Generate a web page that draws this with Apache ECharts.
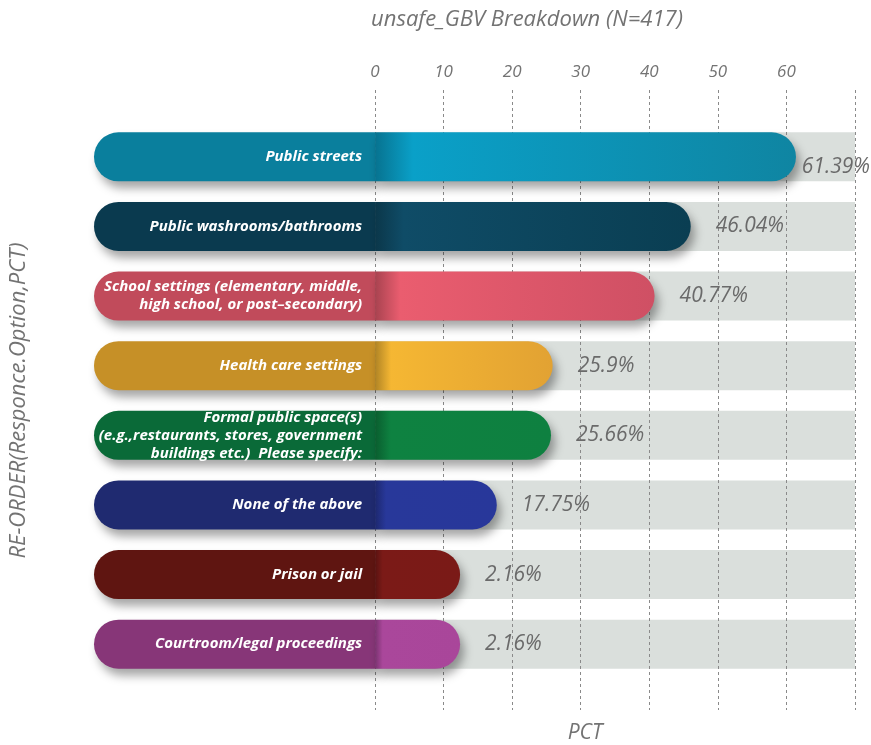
<!DOCTYPE html>
<html>
<head>
<meta charset="utf-8">
<script src="https://cdn.jsdelivr.net/npm/echarts@6/dist/echarts.min.js"></script>
<style>
  html, body { margin: 0; padding: 0; background: #fff; }
  #chart { width: 871px; height: 745px; }
</style>
</head>
<body>
<div id="chart"></div>
<script>
// Response options, top to bottom
const categories = [
  'Public streets',
  'Public washrooms/bathrooms',
  'School settings (elementary, middle,\nhigh school, or post\u2013secondary)',
  'Health care settings',
  'Formal public space(s)\n(e.g.,restaurants, stores, government\nbuildings etc.)  Please specify:',
  'None of the above',
  'Prison or jail',
  'Courtroom/legal proceedings'
];
// Share of respondents (%)
const pctValues = [61.39, 46.04, 40.77, 25.9, 25.66, 17.75, 2.16, 2.16];
// Top axis tick labels
const tickLabels = [0, 10, 20, 30, 40, 50, 60];

// Palette: [label part, bar start, bar end]
const palette = [
  ['#0a7f9d', '#0aa0c8', '#0f85a2'],
  ['#0a3a4f', '#0f4c67', '#0a3e52'],
  ['#c14b5b', '#ea5d6f', '#cf5064'],
  ['#c69027', '#f5b733', '#e2a233'],
  ['#0a6a38', '#0e8241', '#0e8040'],
  ['#1f2a70', '#28389a', '#28379a'],
  ['#5f1511', '#7b1a17', '#7a1a17'],
  ['#873678', '#aa479b', '#a9469a']
];

const AXIS_MIN = -41;   // room for the option names left of zero
const AXIS_MAX = 70;
const BAR_W = 49;
const grey = '#737373';

const shadow = {
  shadowColor: 'rgba(0,0,0,0.35)',
  shadowBlur: 10,
  shadowOffsetX: 4,
  shadowOffsetY: 7
};

const darken = (c, k) => echarts.color.lerp(k, [c, '#000000']);

const nameData = categories.map((c, i) => ({
  value: AXIS_MIN,
  name: c,
  itemStyle: Object.assign({ color: palette[i][0], borderRadius: [25, 0, 0, 25] }, shadow)
}));

const valueData = pctValues.map((v, i) => ({
  value: v,
  itemStyle: Object.assign({
    borderRadius: [0, 25, 25, 0],
    color: new echarts.graphic.LinearGradient(0, 0, 1, 0, [
      { offset: 0, color: darken(palette[i][1], 0.28) },
      { offset: 0.09, color: palette[i][1] },
      { offset: 1, color: palette[i][2] }
    ])
  }, shadow)
}));

const trackData = categories.map(() => AXIS_MAX);

const chart = echarts.init(document.getElementById('chart'), null, { renderer: 'canvas' });

const option = {
  animation: false,
  backgroundColor: '#ffffff',
  grid: [
    { left: 94, right: 16, top: 122, bottom: 66 },
    { left: 375, right: 16, top: 90, bottom: 35 }
  ],
  xAxis: [
    {
      type: 'value', gridIndex: 0, min: AXIS_MIN, max: AXIS_MAX,
      show: false
    },
    {
      type: 'value', gridIndex: 1, min: 0, max: AXIS_MAX, interval: 10,
      position: 'top',
      zlevel: 1,
      axisLine: { show: false },
      axisTick: { show: false },
      axisLabel: {
        margin: 9,
        color: grey,
        fontSize: 17,
        fontStyle: 'italic',
        fontFamily: 'Open Sans',
        formatter: v => (tickLabels.indexOf(v) >= 0 ? String(v) : '')
      },
      splitLine: { show: true, lineStyle: { color: '#8a8a8a', type: [3, 3], width: 1 } }
    }
  ],
  yAxis: [
    {
      type: 'category', gridIndex: 0, data: categories, inverse: true,
      axisLine: { show: false, onZero: false },
      axisTick: { show: false },
      axisLabel: { show: false },
      name: 'RE-ORDER(Responce.Option,PCT)',
      nameLocation: 'middle',
      nameRotate: 90,
      nameGap: 64,
      nameTextStyle: { color: grey, fontSize: 22, fontStyle: 'italic', fontFamily: 'Open Sans' }
    },
    {
      type: 'value', gridIndex: 1, show: false
    }
  ],
  graphic: [
    {
      type: 'text', x: 527, y: 20,
      style: { text: 'unsafe_GBV Breakdown (N=417)', fill: grey, font: 'italic 22px "Open Sans"', align: 'center', verticalAlign: 'middle' }
    },
    {
      type: 'text', x: 585, y: 733,
      style: { text: 'PCT', fill: grey, font: 'italic 21px "Open Sans"', align: 'center', verticalAlign: 'middle' }
    }
  ],
  series: [
    {
      name: 'track', type: 'bar', xAxisIndex: 0, yAxisIndex: 0,
      data: trackData, barWidth: BAR_W, barGap: '-100%', silent: true,
      zlevel: 0,
      itemStyle: { color: '#dadfdc' }
    },
    {
      name: 'option', type: 'bar', xAxisIndex: 0, yAxisIndex: 0,
      data: nameData, barWidth: BAR_W, barGap: '-100%', silent: true,
      zlevel: 2, z: 3,
      label: {
        show: true,
        position: 'insideRight',
        distance: 13,
        formatter: p => p.name,
        color: '#ffffff',
        fontSize: 15,
        lineHeight: 18,
        fontWeight: 'bold',
        fontStyle: 'italic',
        fontFamily: 'Open Sans',
        align: 'right'
      }
    },
    {
      name: 'PCT', type: 'bar', xAxisIndex: 0, yAxisIndex: 0,
      data: valueData, barWidth: BAR_W, barGap: '-100%',
      zlevel: 2, z: 4,
      barMinHeight: 85,
      label: {
        show: true,
        position: 'right',
        distance: 25,
        formatter: p => p.value + '%',
        color: '#6a6a6a',
        fontSize: 21,
        fontStyle: 'italic',
        fontFamily: 'Open Sans'
      },
      labelLayout: function (params) {
        const r = params.labelRect;
        const limit = chart.getWidth() - 1;
        if (r.x + r.width > limit) {
          return { x: limit - r.width };
        }
        return {};
      }
    }
  ]
};

chart.setOption(option);
</script>
</body>
</html>
